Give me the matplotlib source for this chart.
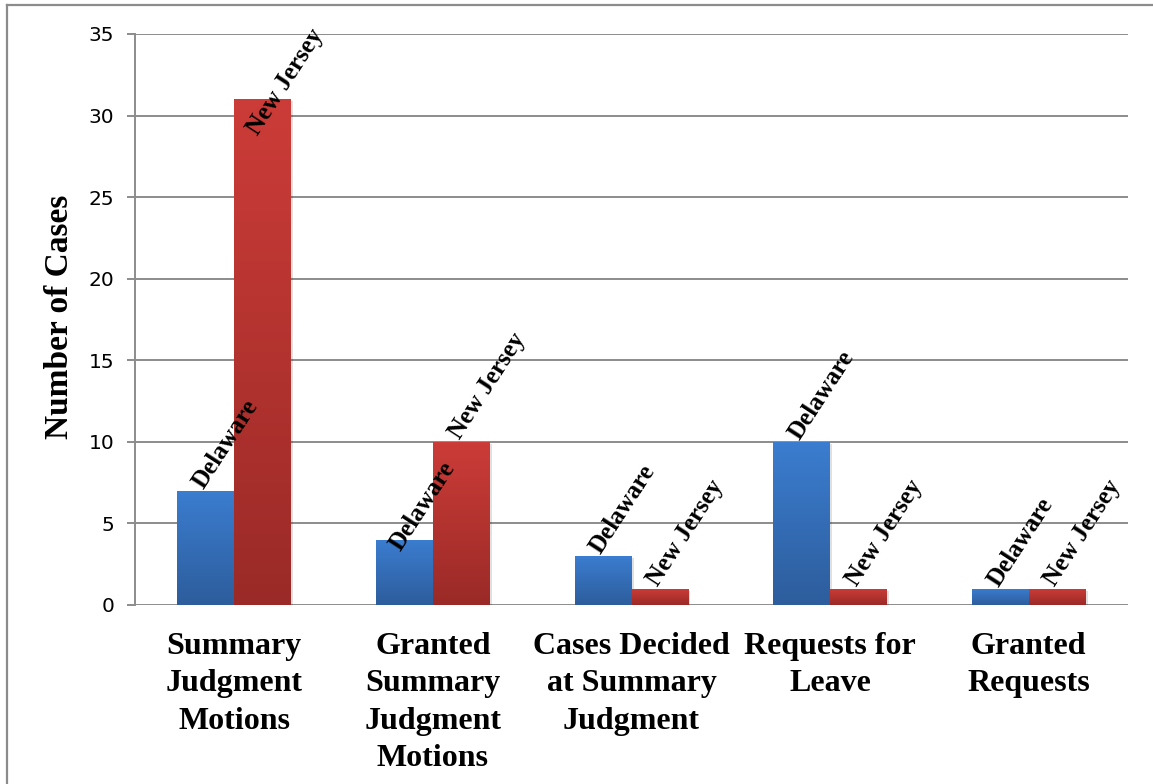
import matplotlib
matplotlib.use("Agg")
import matplotlib.pyplot as plt
import numpy as np
from matplotlib.patches import Rectangle
from matplotlib.lines import Line2D
from matplotlib.colors import LinearSegmentedColormap

categories = ["Summary\nJudgment\nMotions",
              "Granted\nSummary\nJudgment\nMotions",
              "Cases Decided\nat Summary\nJudgment",
              "Requests for\nLeave",
              "Granted\nRequests"]
series_names = ["Delaware", "New Jersey"]
delaware = [7, 4, 3, 10, 1]
new_jersey = [31, 10, 1, 1, 1]
y_ticks = [0, 5, 10, 15, 20, 25, 30, 35]

W, H = 1153, 784
fig = plt.figure(figsize=(W / 100, H / 100), dpi=100)
ax = fig.add_axes([135 / W, 1 - 605 / H, (1128 - 135) / W, (605 - 34) / H])

GRID = "#8c8c8c"
SERIF = ["Liberation Serif", "DejaVu Serif"]

ax.set_xlim(-0.5, len(categories) - 0.5)
ax.set_ylim(0, 35)
ax.set_yticks(y_ticks)
ax.yaxis.grid(True, color=GRID, linewidth=1.4)
ax.set_axisbelow(True)
for s in ["top", "right", "bottom"]:
    ax.spines[s].set_visible(False)
ax.spines["left"].set_color(GRID)
ax.spines["left"].set_linewidth(1.4)
ax.tick_params(axis="y", length=6, width=1.4, color=GRID, pad=9, labelsize=14.5)
for t in ax.get_yticklabels():
    t.set_fontfamily("DejaVu Sans")
ax.set_xticks(range(len(categories)))
ax.set_xticklabels(categories, fontfamily=SERIF, fontweight="bold", fontsize=23,
                   linespacing=1.38, va="top")
ax.tick_params(axis="x", length=0, pad=19.5)

bar_w = 0.287
colors = {
    "Delaware": ("#3b7dd0", "#2d5d9c"),
    "New Jersey": ("#cc3c38", "#9a2a27"),
}
series = [delaware, new_jersey]
offsets = [-bar_w / 2, bar_w / 2]
grad = np.linspace(0, 1, 256).reshape(-1, 1)

# label nudges (points) for labels Excel moved to avoid collisions/clipping
nudges = {(0, 1): (-3.5, -27), (1, 0): (-3.0, -9)}

for si, (name, vals) in enumerate(zip(series_names, series)):
    top_c, bot_c = colors[name]
    cmap = LinearSegmentedColormap.from_list(name, [bot_c, top_c])
    for ci, v in enumerate(vals):
        x0 = ci + offsets[si] - bar_w / 2
        sh = Rectangle((x0, 0), bar_w, v, facecolor="#000000", alpha=0.12,
                       edgecolor="none", zorder=2,
                       transform=ax.transData + matplotlib.transforms.ScaledTranslation(2 / 100, -2 / 100, fig.dpi_scale_trans))
        ax.add_patch(sh)
        rect = Rectangle((x0, 0), bar_w, v, facecolor="none", edgecolor="none", zorder=3)
        ax.add_patch(rect)
        im = ax.imshow(grad, cmap=cmap, aspect="auto", origin="lower",
                       extent=[x0, x0 + bar_w, 0, v], zorder=3)
        im.set_clip_path(rect)
        dx, dy = nudges.get((ci, si), (-1.5, 0.8))
        ax.annotate(name, xy=(ci + offsets[si], v), xytext=(dx, dy),
                    textcoords="offset points", rotation=57, rotation_mode="anchor",
                    ha="left", va="baseline", fontsize=18, fontweight="bold",
                    fontfamily=SERIF, zorder=5, annotation_clip=False)

ax.set_xlim(-0.5, len(categories) - 0.5)
ax.set_ylim(0, 35)

fig.text(59 / W, 1 - 317 / H, "Number of Cases", rotation=90, ha="center", va="center",
         fontsize=24, fontweight="bold", fontfamily=SERIF)

fig.add_artist(Line2D([7 / W, 7 / W], [0, 1 - 5 / H], transform=fig.transFigure,
                      color=GRID, linewidth=1.6))
fig.add_artist(Line2D([7 / W, 1], [1 - 5 / H, 1 - 5 / H], transform=fig.transFigure,
                      color=GRID, linewidth=1.6))

fig.savefig("out.png", dpi=100, facecolor="white")
